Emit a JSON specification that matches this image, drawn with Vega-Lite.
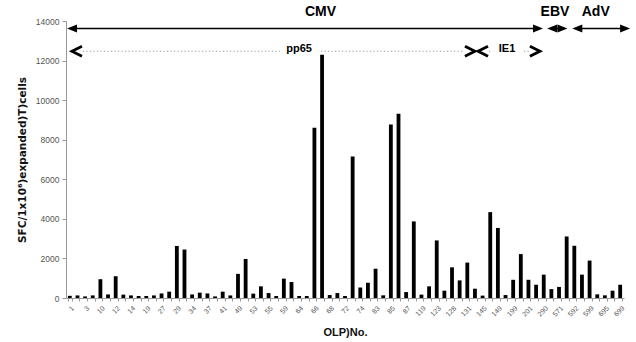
{
  "$schema": "https://vega.github.io/schema/vega-lite/v6.json",
  "width": 558,
  "height": 277,
  "autosize": "none",
  "padding": {"left": 66, "top": 21, "right": 12, "bottom": 44},
  "background": "white",
  "config": {"view": {"stroke": null}, "font": "Liberation Sans"},
  "datasets": {
    "bars": [
      {"olp": "1", "sfc": 110}, {"olp": "2", "sfc": 130}, {"olp": "3", "sfc": 80}, {"olp": "9", "sfc": 130},
      {"olp": "10", "sfc": 950}, {"olp": "11", "sfc": 180}, {"olp": "12", "sfc": 1100}, {"olp": "13", "sfc": 170},
      {"olp": "14", "sfc": 130}, {"olp": "18", "sfc": 100}, {"olp": "19", "sfc": 100}, {"olp": "26", "sfc": 130},
      {"olp": "27", "sfc": 230}, {"olp": "28", "sfc": 320}, {"olp": "29", "sfc": 2630}, {"olp": "33", "sfc": 2450},
      {"olp": "34", "sfc": 180}, {"olp": "36", "sfc": 270}, {"olp": "37", "sfc": 230}, {"olp": "40", "sfc": 80},
      {"olp": "41", "sfc": 320}, {"olp": "48", "sfc": 130}, {"olp": "49", "sfc": 1220}, {"olp": "52", "sfc": 1970},
      {"olp": "53", "sfc": 220}, {"olp": "54", "sfc": 590}, {"olp": "55", "sfc": 250}, {"olp": "58", "sfc": 100},
      {"olp": "59", "sfc": 980}, {"olp": "63", "sfc": 810}, {"olp": "64", "sfc": 100}, {"olp": "65", "sfc": 100},
      {"olp": "66", "sfc": 8600}, {"olp": "67", "sfc": 12300}, {"olp": "68", "sfc": 150}, {"olp": "71", "sfc": 250},
      {"olp": "72", "sfc": 100}, {"olp": "73", "sfc": 7150}, {"olp": "74", "sfc": 530}, {"olp": "82", "sfc": 770},
      {"olp": "83", "sfc": 1480}, {"olp": "84", "sfc": 135}, {"olp": "85", "sfc": 8770}, {"olp": "86", "sfc": 9310},
      {"olp": "87", "sfc": 300}, {"olp": "118", "sfc": 3870}, {"olp": "119", "sfc": 170}, {"olp": "122", "sfc": 590},
      {"olp": "123", "sfc": 2910}, {"olp": "127", "sfc": 370}, {"olp": "128", "sfc": 1550}, {"olp": "130", "sfc": 890},
      {"olp": "131", "sfc": 1790}, {"olp": "144", "sfc": 470}, {"olp": "145", "sfc": 120}, {"olp": "148", "sfc": 4340},
      {"olp": "149", "sfc": 3540}, {"olp": "198", "sfc": 150}, {"olp": "199", "sfc": 920}, {"olp": "200", "sfc": 2220},
      {"olp": "201", "sfc": 920}, {"olp": "289", "sfc": 670}, {"olp": "290", "sfc": 1180}, {"olp": "570", "sfc": 450},
      {"olp": "571", "sfc": 560}, {"olp": "591", "sfc": 3110}, {"olp": "592", "sfc": 2640}, {"olp": "598", "sfc": 1180},
      {"olp": "599", "sfc": 1890}, {"olp": "600", "sfc": 185}, {"olp": "695", "sfc": 135}, {"olp": "698", "sfc": 370},
      {"olp": "699", "sfc": 670}
    ],
    "spans": [
      {"grp": "virus", "name": "CMV", "start": 0.13, "end": 62.4, "mid": 33.3},
      {"grp": "virus", "name": "EBV", "start": 62.95, "end": 65.6, "mid": 63.97},
      {"grp": "virus", "name": "AdV", "start": 66.24, "end": 73.8, "mid": 69.3},
      {"grp": "protein", "name": "pp65", "start": 0.78, "end": 53.5, "mid": 30.5},
      {"grp": "protein", "name": "IE1", "start": 53.9, "end": 62.0, "mid": 57.7}
    ]
  },
  "layer": [
    {
      "data": {"name": "bars"},
      "mark": {"type": "bar", "color": "black"},
      "encoding": {
        "x": {
          "field": "olp", "type": "nominal", "sort": null,
          "scale": {"paddingInner": 0.5, "paddingOuter": 0.25},
          "axis": {
            "title": "OLP)No.", "titleFontSize": 11, "titleFontWeight": "bold", "titleColor": "#111",
            "titlePadding": 9,
            "labelAngle": -45, "labelFontSize": 7, "labelColor": "#555", "labelPadding": 3,
            "labelExpr": "indexof(['1','3','10','12','14','19','27','29','34','37','41','49','53','55','59','64','66','68','72','74','83','85','87','119','123','128','131','145','149','199','201','290','571','592','599','695','699'], datum.value) >= 0 ? datum.value : ''",
            "labelOverlap": false,
            "tickBand": "extent", "tickSize": 3, "tickColor": "#999",
            "domainColor": "#999"
          }
        },
        "y": {
          "field": "sfc", "type": "quantitative",
          "scale": {"domain": [0, 14000], "nice": false},
          "axis": {
            "title": "SFC/1x10⁶)expanded)T)cells", "titleFontSize": 10.5, "titleFontWeight": "bold", "titleColor": "#111",
            "titleFont": "DejaVu Sans", "titlePadding": 8,
            "values": [0, 2000, 4000, 6000, 8000, 10000, 12000, 14000], "format": "d", "labelOverlap": false,
            "grid": false, "labelFontSize": 8.5, "labelColor": "#555", "tickSize": 4, "tickColor": "#999",
            "domainColor": "#999", "labelPadding": 3
          }
        }
      }
    },
    {
      "data": {"name": "spans"},
      "encoding": {
        "x": {"field": "start", "type": "quantitative", "scale": {"domain": [0, 73], "nice": false, "zero": false}, "axis": null}
      },
      "layer": [
        {
          "transform": [{"filter": "datum.grp === 'virus'"}],
          "mark": {"type": "rule", "color": "black", "strokeWidth": 1.7, "xOffset": 4, "x2Offset": -4},
          "encoding": {"x2": {"field": "end"}, "y": {"datum": 13620, "scale": {"domain": [0, 14000], "nice": false, "zero": false}, "axis": null}}
        },
        {
          "transform": [{"filter": "datum.grp === 'virus'"}],
          "mark": {"type": "point", "shape": "M 0 0 L 2 -0.8 L 2 0.8 Z", "filled": true, "color": "black", "size": 100, "opacity": 1},
          "encoding": {"y": {"datum": 13620, "scale": {"domain": [0, 14000], "nice": false, "zero": false}, "axis": null}}
        },
        {
          "transform": [{"filter": "datum.grp === 'virus'"}],
          "mark": {"type": "point", "shape": "M 0 0 L -2 -0.8 L -2 0.8 Z", "filled": true, "color": "black", "size": 100, "opacity": 1},
          "encoding": {"x": {"field": "end", "type": "quantitative"}, "y": {"datum": 13620, "scale": {"domain": [0, 14000], "nice": false, "zero": false}, "axis": null}}
        },
        {
          "transform": [{"filter": "datum.grp === 'virus'"}],
          "mark": {"type": "text", "fontSize": 14, "fontWeight": "bold", "color": "black", "baseline": "middle", "align": "center"},
          "encoding": {"x": {"field": "mid", "type": "quantitative"}, "text": {"field": "name"}, "y": {"datum": 14430, "scale": {"domain": [0, 14000], "nice": false, "zero": false}, "axis": null}}
        },
        {
          "transform": [{"filter": "datum.grp === 'protein'"}],
          "mark": {"type": "rule", "color": "#999", "strokeWidth": 1, "strokeDash": [1.2, 2.3], "xOffset": 11, "x2Offset": -11},
          "encoding": {"x2": {"field": "end"}, "y": {"datum": 12470, "scale": {"domain": [0, 14000], "nice": false, "zero": false}, "axis": null}}
        },
        {
          "transform": [{"filter": "datum.grp === 'protein'"}],
          "mark": {"type": "point", "shape": "M 2 -1 L 0 0 L 2 1", "filled": false, "color": "black", "strokeWidth": 2.8, "size": 100, "opacity": 1},
          "encoding": {"y": {"datum": 12470, "scale": {"domain": [0, 14000], "nice": false, "zero": false}, "axis": null}}
        },
        {
          "transform": [{"filter": "datum.grp === 'protein'"}],
          "mark": {"type": "point", "shape": "M -2 -1 L 0 0 L -2 1", "filled": false, "color": "black", "strokeWidth": 2.8, "size": 100, "opacity": 1},
          "encoding": {"x": {"field": "end", "type": "quantitative"}, "y": {"datum": 12470, "scale": {"domain": [0, 14000], "nice": false, "zero": false}, "axis": null}}
        },
        {
          "transform": [{"filter": "datum.grp === 'protein'"}],
          "mark": {"type": "text", "fontSize": 11, "fontWeight": "bold", "color": "white", "stroke": "white", "strokeWidth": 14, "baseline": "middle", "align": "center"},
          "encoding": {"x": {"field": "mid", "type": "quantitative"}, "text": {"field": "name"}, "y": {"datum": 12560, "scale": {"domain": [0, 14000], "nice": false, "zero": false}, "axis": null}}
        },
        {
          "transform": [{"filter": "datum.grp === 'protein'"}],
          "mark": {"type": "text", "fontSize": 11, "fontWeight": "bold", "color": "black", "baseline": "middle", "align": "center"},
          "encoding": {"x": {"field": "mid", "type": "quantitative"}, "text": {"field": "name"}, "y": {"datum": 12560, "scale": {"domain": [0, 14000], "nice": false, "zero": false}, "axis": null}}
        }
      ]
    }
  ],
  "resolve": {"scale": {"x": "independent", "y": "independent"}}
}
